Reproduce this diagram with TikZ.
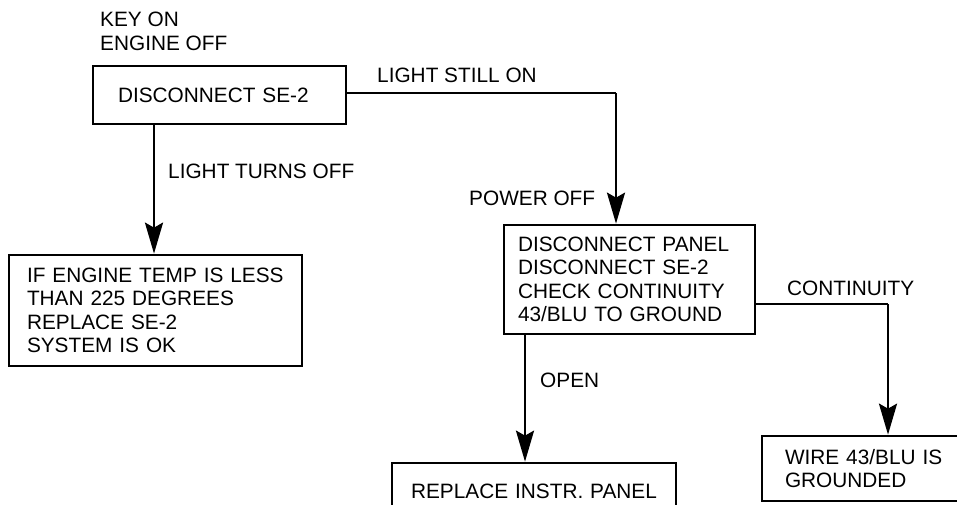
\documentclass[tikz,border=0pt]{standalone}
\usepackage{fontspec}
\setmainfont{Liberation Sans}
\usetikzlibrary{arrows.meta}
\begin{document}
\begin{tikzpicture}[x=1pt,y=-1pt,
  txt/.style={font=\fontsize{20.8}{23.5}\selectfont},
  box/.style={txt,draw,line width=2.7pt,inner ysep=0pt,align=left},
  lbl/.style={txt,anchor=base west,inner sep=0pt},
  conn/.style={line width=2.7pt},
  arr/.style={conn,-{Stealth[length=31pt,width=18pt,inset=5pt]}}]
\useasboundingbox (0,0) rectangle (957,504);
\fill[white] (0,0) rectangle (957,504);
\clip (0,0) rectangle (957,504);
% boxes
\node[box,minimum width=253pt,minimum height=58pt,inner xsep=25pt,text width=203pt] (b1) at (219.5,95) {DISCONNECT SE-2};
\node[box,minimum width=293pt,minimum height=111pt,inner xsep=18pt,text width=257pt] (b2) at (155.5,310.5) {IF ENGINE TEMP IS LESS\\THAN 225 DEGREES\\REPLACE SE-2\\SYSTEM IS OK};
\node[box,minimum width=251pt,minimum height=109pt,inner xsep=14pt,text width=223pt] (b3) at (629.5,279.5) {DISCONNECT PANEL\\DISCONNECT SE-2\\CHECK CONTINUITY\\43/BLU TO GROUND};
\node[box,align=center,minimum width=284pt,minimum height=56pt,inner xsep=10pt,text width=264pt] (b4) at (534,491) {REPLACE INSTR. PANEL};
\node[box,minimum width=213pt,minimum height=65pt,inner xsep=23pt,text width=167pt] (b5) at (868.5,468.5) {WIRE 43/BLU IS\\GROUNDED};
% labels
\node[lbl] (keyon) at (100,26) {KEY ON};
\node[lbl] (engoff) at (100,50) {ENGINE OFF};
\node[lbl] (still) at (377,82) {LIGHT STILL ON};
\node[lbl] (turns) at (168,178) {LIGHT TURNS OFF};
\node[lbl] (power) at (469,205) {POWER OFF};
\node[lbl] (open) at (540,387) {OPEN};
\node[lbl] (cont) at (787,295) {CONTINUITY};
% connector helpers
\coordinate (xa) at (154,0);
\coordinate (c1) at (616,93);
\coordinate (c2) at (888,304);
\coordinate (xo) at (525,0);
% connectors
\draw[arr] (b1.south -| xa) -- (b2.north -| xa);
\draw[conn] (b1.east |- c1) -- (c1);
\draw[arr] (c1) -- (c1 |- b3.north);
\draw[arr] (b3.south -| xo) -- (b4.north -| xo);
\draw[conn] (b3.east |- c2) -- (c2);
\draw[arr] (c2) -- (c2 |- b5.north);
\end{tikzpicture}
\end{document}
